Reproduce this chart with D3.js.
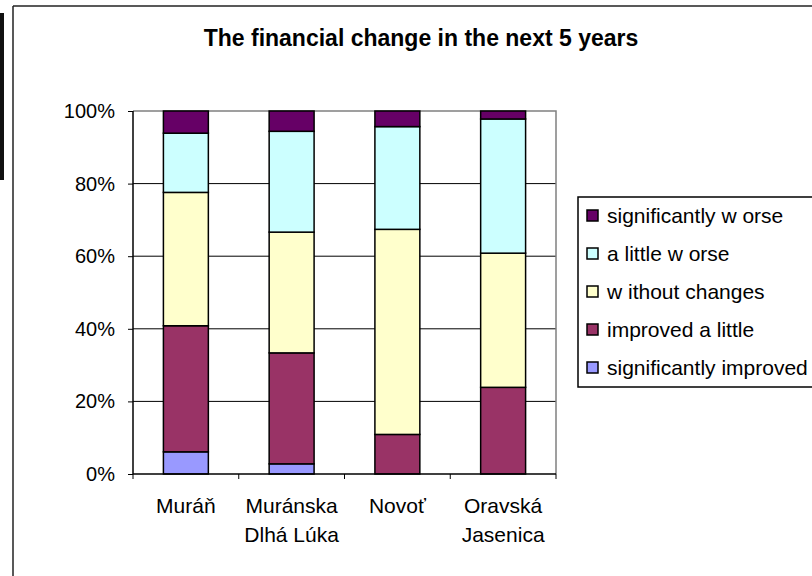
<!DOCTYPE html>
<html>
<head>
<meta charset="utf-8">
<script src="https://cdn.jsdelivr.net/npm/d3@7"></script>
<style>
  body { margin: 0; background: #fff; }
  svg { display: block; font-family: "Liberation Sans", Arial, sans-serif; }
</style>
</head>
<body>
<svg id="chart" width="812" height="576"></svg>
<script>
// villages (two-line labels)
var categories = ["Muráň", "Muránska Dlhá Lúka", "Novoť", "Oravská Jasenica"]
var categoryLines = [["Muráň"], ["Muránska", "Dlhá Lúka"], ["Novoť"], ["Oravská", "Jasenica"]]

// shares in %, bottom to top
var significantlyImproved = [6.1, 2.8, 0, 0]
var improvedLittle = [34.7, 30.6, 10.9, 23.9]
var withoutChanges = [36.7, 33.3, 56.5, 37.0]
var littleWorse = [16.3, 27.8, 28.3, 37.0]
var significantlyWorse = [6.1, 5.6, 4.3, 2.2]

var seriesNames = ["significantly improved", "improved a little", "without changes", "a little worse", "significantly worse"]
var legendLabels = ["significantly w orse", "a little w orse", "w ithout changes", "improved a little", "significantly improved"]
var seriesColors = ["#9999FF", "#993366", "#FFFFCC", "#CCFFFF", "#660066"]
var yTicks = [0, 0.2, 0.4, 0.6, 0.8, 1]

var svg = d3.select("#chart")

// outer chart frame + the dark strip on the far left
svg.append("rect").attr("x", 0).attr("y", 13).attr("width", 4).attr("height", 167).attr("fill", "#111")
svg.append("line").attr("x1", 13).attr("x2", 812).attr("y1", 6).attr("y2", 6).attr("stroke", "#222").attr("stroke-width", 1.5)
svg.append("line").attr("x1", 13).attr("x2", 13).attr("y1", 6).attr("y2", 576).attr("stroke", "#222").attr("stroke-width", 1.5)

svg.append("text")
  .attr("x", 421).attr("y", 46)
  .attr("text-anchor", "middle")
  .attr("font-size", "23px").attr("font-weight", "bold")
  .text("The financial change in the next 5 years")

var plot = { left: 133, right: 556, top: 111, bottom: 474 }

var x = d3.scaleBand()
  .domain(categories)
  .range([plot.left, plot.right])
  .paddingInner(0.575)
  .paddingOuter(0.2875)

var y = d3.scaleLinear().domain([0, 1]).range([plot.bottom, plot.top])

// build rows for the stack
var table = categories.map(function (c, i) {
  return {
    cat: c,
    "significantly improved": significantlyImproved[i],
    "improved a little": improvedLittle[i],
    "without changes": withoutChanges[i],
    "a little worse": littleWorse[i],
    "significantly worse": significantlyWorse[i]
  }
})
var stacked = d3.stack().keys(seriesNames).offset(d3.stackOffsetExpand)(table)

// grid
svg.append("g")
  .selectAll("line")
  .data(yTicks.filter(function (t) { return t > 0 && t < 1 }))
  .enter().append("line")
  .attr("x1", plot.left).attr("x2", plot.right)
  .attr("y1", function (d) { return y(d) }).attr("y2", function (d) { return y(d) })
  .attr("stroke", "#000").attr("stroke-width", 1)

// plot border (grey top/right)
svg.append("path")
  .attr("d", "M" + plot.left + "," + y(1) + "H" + plot.right + "V" + plot.bottom)
  .attr("fill", "none").attr("stroke", "#808080").attr("stroke-width", 1.5)

// bars
svg.append("g")
  .selectAll("g")
  .data(stacked)
  .enter().append("g")
  .attr("fill", function (d, i) { return seriesColors[i] })
  .selectAll("rect")
  .data(function (d) { return d.filter(function (p) { return p[1] - p[0] > 0 }) })
  .enter().append("rect")
  .attr("x", function (d) { return x(d.data.cat) })
  .attr("width", x.bandwidth())
  .attr("y", function (d) { return y(d[1]) })
  .attr("height", function (d) { return y(d[0]) - y(d[1]) })
  .attr("stroke", "#000").attr("stroke-width", 1.5)

// y axis
var yAxis = d3.axisLeft(y).tickValues(yTicks).tickSize(5).tickPadding(13)
  .tickFormat(function (d) { return Math.round(d * 100) + "%" })
var gy = svg.append("g").attr("transform", "translate(" + plot.left + ",0)").call(yAxis)
gy.select(".domain").attr("stroke", "#000").attr("stroke-width", 1.5).attr("d", "M0," + plot.top + "V" + plot.bottom)
gy.selectAll(".tick line").attr("stroke", "#000")
gy.selectAll("text").attr("font-size", "20px").attr("font-family", "Liberation Sans, Arial, sans-serif").attr("fill", "#000")

// x axis: ticks at the band edges
var step = x.step()
var edges = d3.range(categories.length + 1).map(function (i) { return plot.left + i * step })
svg.append("line").attr("x1", plot.left).attr("x2", plot.right).attr("y1", plot.bottom).attr("y2", plot.bottom)
  .attr("stroke", "#000").attr("stroke-width", 1.5)
svg.append("g").selectAll("line").data(edges).enter().append("line")
  .attr("x1", function (d) { return d }).attr("x2", function (d) { return d })
  .attr("y1", plot.bottom).attr("y2", plot.bottom + 5)
  .attr("stroke", "#000").attr("stroke-width", 1)

var labels = svg.append("g").selectAll("text").data(categories).enter().append("text")
  .attr("text-anchor", "middle")
  .attr("font-size", "21px")
  .attr("x", function (d) { return x(d) + x.bandwidth() / 2 })
  .attr("y", 513)
labels.each(function (d, i) {
  var t = d3.select(this)
  categoryLines[i].forEach(function (line, j) {
    t.append("tspan").attr("x", x(d) + x.bandwidth() / 2).attr("dy", j == 0 ? 0 : 29).text(line)
  })
})

// legend
var legend = svg.append("g")
legend.append("rect").attr("x", 578).attr("y", 197).attr("width", 260).attr("height", 190)
  .attr("fill", "#fff").attr("stroke", "#000").attr("stroke-width", 1.5)
var legendRows = legend.selectAll("g.row").data(legendLabels).enter().append("g")
  .attr("class", "row")
  .attr("transform", function (d, i) { return "translate(587," + (216 + i * 38) + ")" })
legendRows.append("rect")
  .attr("x", 0).attr("y", -6).attr("width", 11).attr("height", 11)
  .attr("fill", function (d, i) { return seriesColors[seriesColors.length - 1 - i] })
  .attr("stroke", "#000").attr("stroke-width", 1.5)
legendRows.append("text")
  .attr("x", 20).attr("y", 7)
  .attr("font-size", "21px")
  .text(function (d) { return d })
</script>
</body>
</html>
